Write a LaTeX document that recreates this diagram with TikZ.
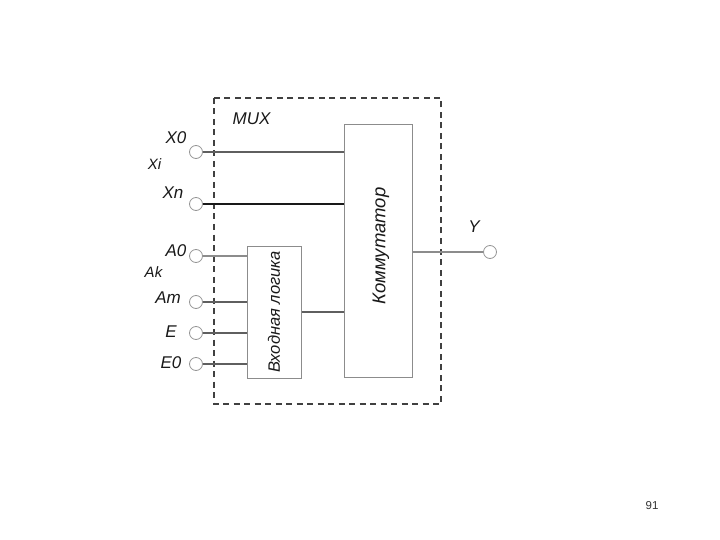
\documentclass[tikz,border=0pt]{standalone}
\usepackage{xcolor}
\usepackage{fontspec}
\setmainfont{Liberation Sans}
\definecolor{wiregray}{RGB}{95,95,95}
\definecolor{boxgray}{RGB}{140,140,140}
\definecolor{pingray}{RGB}{150,150,150}
\tikzset{
  pin/.style={circle, draw=pingray, fill=white, inner sep=0pt, minimum size=13pt, line width=0.8pt},
  block/.style={draw=boxgray, fill=white, line width=1pt, minimum width=#1, inner sep=0pt},
  wire/.style={draw=wiregray, line width=1.3pt},
  lbl/.style={font=\fontsize{17}{19}\selectfont\itshape, text=black!90},
  sublbl/.style={font=\fontsize{15}{17}\selectfont\itshape, text=black!90}
}
\begin{document}
\begin{tikzpicture}[x=1pt, y=-1pt]
  \useasboundingbox (0,0) rectangle (720,540);
  \draw[line width=1.4pt, black!75, dash pattern=on 6pt off 4.5pt] (214,98) rectangle (441,404);
  \node[lbl] (mux) at (251.5,119) {MUX};

  % blocks
  \node[block=68pt, minimum height=252pt] (komm) at (378,251) {};
  \node[lbl, font=\fontsize{18.5}{20}\selectfont\itshape, rotate=90] (kommtext) at (381,246) {Коммутатор};
  \node[block=54pt, minimum height=132pt] (logic) at (274,312) {};
  \node[font=\fontsize{16.5}{18}\selectfont\itshape, text=black!90, rotate=90] (logictext) at (274,312) {Входная логика};

  % inputs
  \node[pin] (x0) at (196,152) {};
  \node[pin] (xn) at (196,204) {};
  \node[pin] (a0) at (196,256) {};
  \node[pin] (am) at (196,302) {};
  \node[pin] (e) at (196,333) {};
  \node[pin] (e0) at (196,364) {};
  \node[pin] (y) at (490,252) {};

  \node[lbl] (x0text) at (176,138) {X0};
  \node[sublbl] (xitext) at (154.5,164) {Xi};
  \node[lbl] (xntext) at (173,193) {Xn};
  \node[lbl] (a0text) at (176,251) {A0};
  \node[sublbl] (aktext) at (153.5,272.5) {Ak};
  \node[lbl] (amtext) at (168,298) {Am};
  \node[lbl] (etext) at (171,332) {E};
  \node[lbl] (e0text) at (171,363) {E0};
  \node[lbl] (ytext) at (474,227) {Y};

  % wires
  \draw[wire] (x0) -- (komm.west |- x0);
  \draw[draw=black!90, line width=1.3pt] (xn) -- (komm.west |- xn);
  \draw[wire, draw=boxgray] (a0) -- (logic.west |- a0);
  \draw[wire] (am) -- (logic.west |- am);
  \draw[wire] (e) -- (logic.west |- e);
  \draw[wire] (e0) -- (logic.west |- e0);
  \draw[wire] (logic.east) -- (komm.west |- logic.east);
  \draw[wire, draw=boxgray] (komm.east |- y) -- (y);

  \node[font=\fontsize{11.5}{13}\selectfont, text=black!80] (page) at (652,506) {91};
\end{tikzpicture}
\end{document}
